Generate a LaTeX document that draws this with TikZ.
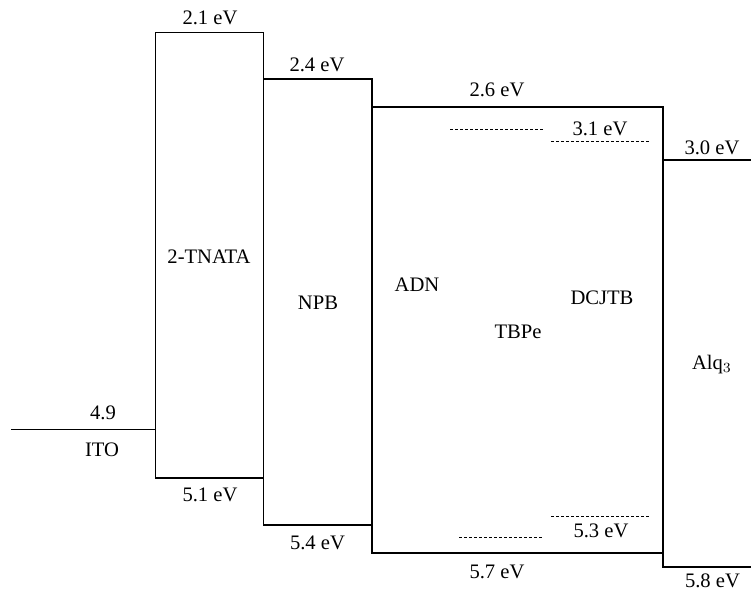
\documentclass[tikz,border=0pt]{standalone}
\usepackage{fontspec}
\setmainfont{Liberation Serif}
\tikzset{
  level/.style={line width=0.95pt},
  dopant/.style={line width=0.5pt, dash pattern=on 1.5pt off 1pt},
  lab/.style={anchor=base, inner sep=0pt, font=\fontsize{10.3}{12}\selectfont}
}
\begin{document}
\begin{tikzpicture}[x=0.5pt,y=-0.5pt]
\useasboundingbox (0,0) rectangle (751,591);

% electrode
\draw[line width=0.45pt] (11,429) -- (155.5,429);
\node[lab] (itowf) at (103,419) {4.9};
\node[lab] (ito) at (102,456) {ITO};

% transport and emitting layers
\draw[level] (155.5,32.5) rectangle (263.5,478);
\draw[level] (263.5,79) rectangle (372,525);
\draw[level] (372,107) rectangle (663,553);
\draw[level] (751,160) -- (663,160) -- (663,567) -- (751,567);

% dopant levels
\draw[dopant] (450,129) -- (543,129);
\draw[dopant] (459,537) -- (542,537);
\draw[dopant] (551,141) -- (650,141);
\draw[dopant] (551,516) -- (650,516);

% layer names
\node[lab] (tnata) at (209,263) {2-TNATA};
\node[lab] (npb) at (318,309) {NPB};
\node[lab] (adn) at (417,291) {ADN};
\node[lab] (tbpe) at (518,338) {TBPe};
\node[lab] (dcjtb) at (602,304) {DCJTB};
\node[lab] (alq) at (712,369) {Alq$_3$};

% LUMO
\node[lab] (lumoa) at (210,24) {2.1 eV};
\node[lab] (lumob) at (317,71) {2.4 eV};
\node[lab] (lumoc) at (497,96) {2.6 eV};
\node[lab] (lumod) at (600,135) {3.1 eV};
\node[lab] (lumoe) at (712,154) {3.0 eV};

% HOMO
\node[lab] (homoa) at (210,501) {5.1 eV};
\node[lab] (homob) at (317.5,549) {5.4 eV};
\node[lab] (homoc) at (497,578) {5.7 eV};
\node[lab] (homod) at (601,537) {5.3 eV};
\node[lab] (homoe) at (712.5,587) {5.8 eV};
\end{tikzpicture}
\end{document}
